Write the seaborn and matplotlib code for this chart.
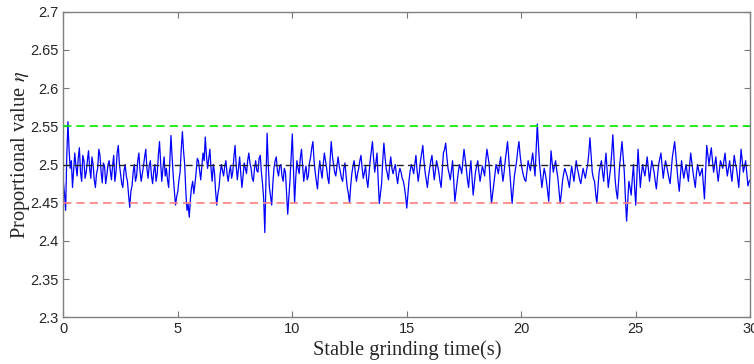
import numpy as np
import pandas as pd
import matplotlib
matplotlib.use("Agg")
import matplotlib.pyplot as plt
from matplotlib.ticker import FuncFormatter
import seaborn as sns

eta = [
    2.478, 2.462, 2.440, 2.510, 2.556, 2.520, 2.495, 2.505, 2.470, 2.492, 2.515, 2.498, 2.485, 2.508, 2.522, 2.490, 2.478, 2.512, 2.505, 2.482,
    2.490, 2.505, 2.518, 2.495, 2.482, 2.510, 2.500, 2.480, 2.470, 2.488, 2.495, 2.520, 2.512, 2.490, 2.476, 2.502, 2.498, 2.475, 2.486, 2.500,
    2.505, 2.492, 2.480, 2.498, 2.512, 2.478, 2.490, 2.515, 2.525, 2.500, 2.488, 2.475, 2.470, 2.492, 2.500, 2.485, 2.478, 2.460, 2.444, 2.465,
    2.472, 2.490, 2.500, 2.478, 2.485, 2.505, 2.515, 2.492, 2.478, 2.488, 2.498, 2.510, 2.520, 2.495, 2.482, 2.498, 2.505, 2.485, 2.475, 2.492,
    2.500, 2.478, 2.488, 2.512, 2.530, 2.502, 2.478, 2.495, 2.510, 2.485, 2.495, 2.480, 2.470, 2.505, 2.538, 2.510, 2.485, 2.465, 2.447, 2.458,
    2.465, 2.480, 2.490, 2.520, 2.543, 2.518, 2.500, 2.465, 2.440, 2.448, 2.431, 2.455, 2.470, 2.478, 2.462, 2.475, 2.490, 2.508, 2.505, 2.492,
    2.480, 2.498, 2.515, 2.505, 2.536, 2.512, 2.495, 2.508, 2.520, 2.495, 2.478, 2.500, 2.490, 2.465, 2.447, 2.462, 2.470, 2.488, 2.500, 2.492,
    2.485, 2.498, 2.505, 2.488, 2.478, 2.490, 2.498, 2.482, 2.490, 2.510, 2.525, 2.498, 2.480, 2.495, 2.510, 2.488, 2.470, 2.485, 2.502, 2.495,
    2.488, 2.505, 2.515, 2.502, 2.495, 2.482, 2.478, 2.495, 2.505, 2.492, 2.490, 2.508, 2.512, 2.490, 2.475, 2.455, 2.411, 2.480, 2.541, 2.500,
    2.470, 2.458, 2.447, 2.475, 2.495, 2.505, 2.510, 2.492, 2.485, 2.498, 2.500, 2.485, 2.478, 2.495, 2.490, 2.462, 2.435, 2.458, 2.480, 2.510,
    2.540, 2.495, 2.450, 2.482, 2.505, 2.495, 2.488, 2.508, 2.520, 2.498, 2.478, 2.490, 2.498, 2.480, 2.485, 2.502, 2.510, 2.522, 2.530, 2.505,
    2.490, 2.478, 2.468, 2.490, 2.505, 2.492, 2.482, 2.500, 2.515, 2.505, 2.495, 2.482, 2.475, 2.505, 2.530, 2.512, 2.500, 2.490, 2.485, 2.498,
    2.510, 2.498, 2.490, 2.482, 2.478, 2.495, 2.502, 2.485, 2.470, 2.462, 2.450, 2.472, 2.488, 2.498, 2.505, 2.490, 2.478, 2.488, 2.495, 2.505,
    2.512, 2.495, 2.482, 2.490, 2.498, 2.480, 2.470, 2.488, 2.505, 2.518, 2.530, 2.508, 2.490, 2.502, 2.515, 2.480, 2.449, 2.462, 2.475, 2.505,
    2.528, 2.510, 2.495, 2.488, 2.480, 2.498, 2.510, 2.495, 2.488, 2.495, 2.500, 2.485, 2.475, 2.488, 2.495, 2.490, 2.482, 2.478, 2.470, 2.458,
    2.443, 2.462, 2.480, 2.492, 2.500, 2.495, 2.488, 2.500, 2.512, 2.492, 2.478, 2.490, 2.505, 2.515, 2.525, 2.505, 2.490, 2.480, 2.470, 2.485,
    2.495, 2.505, 2.512, 2.495, 2.480, 2.492, 2.505, 2.498, 2.490, 2.478, 2.470, 2.492, 2.515, 2.520, 2.528, 2.510, 2.495, 2.488, 2.480, 2.492,
    2.505, 2.478, 2.452, 2.465, 2.478, 2.490, 2.500, 2.495, 2.488, 2.505, 2.520, 2.508, 2.495, 2.480, 2.470, 2.490, 2.505, 2.482, 2.460, 2.475,
    2.490, 2.498, 2.505, 2.490, 2.478, 2.488, 2.498, 2.492, 2.485, 2.505, 2.520, 2.510, 2.500, 2.472, 2.449, 2.462, 2.475, 2.488, 2.500, 2.495,
    2.488, 2.500, 2.510, 2.492, 2.478, 2.490, 2.505, 2.518, 2.530, 2.510, 2.490, 2.470, 2.449, 2.468, 2.485, 2.495, 2.505, 2.520, 2.530, 2.512,
    2.500, 2.492, 2.485, 2.480, 2.478, 2.492, 2.505, 2.498, 2.492, 2.505, 2.515, 2.500, 2.485, 2.520, 2.553, 2.525, 2.500, 2.485, 2.470, 2.482,
    2.495, 2.488, 2.478, 2.465, 2.452, 2.485, 2.518, 2.502, 2.490, 2.498, 2.505, 2.492, 2.482, 2.465, 2.449, 2.462, 2.478, 2.488, 2.495, 2.490,
    2.485, 2.478, 2.470, 2.485, 2.498, 2.488, 2.478, 2.492, 2.505, 2.495, 2.488, 2.480, 2.475, 2.485, 2.495, 2.488, 2.482, 2.492, 2.500, 2.515,
    2.535, 2.512, 2.490, 2.482, 2.478, 2.462, 2.449, 2.470, 2.490, 2.498, 2.505, 2.490, 2.478, 2.498, 2.515, 2.492, 2.470, 2.482, 2.495, 2.515,
    2.539, 2.510, 2.480, 2.465, 2.455, 2.478, 2.500, 2.515, 2.530, 2.510, 2.490, 2.455, 2.426, 2.452, 2.478, 2.470, 2.460, 2.482, 2.500, 2.470,
    2.447, 2.485, 2.520, 2.495, 2.470, 2.488, 2.500, 2.492, 2.485, 2.498, 2.510, 2.495, 2.478, 2.492, 2.505, 2.498, 2.490, 2.478, 2.468, 2.485,
    2.500, 2.508, 2.515, 2.498, 2.482, 2.495, 2.505, 2.498, 2.490, 2.482, 2.475, 2.492, 2.510, 2.520, 2.530, 2.512, 2.495, 2.478, 2.465, 2.485,
    2.505, 2.492, 2.482, 2.492, 2.500, 2.488, 2.478, 2.498, 2.515, 2.502, 2.490, 2.480, 2.470, 2.488, 2.500, 2.492, 2.485, 2.490, 2.495, 2.475,
    2.455, 2.490, 2.525, 2.512, 2.500, 2.512, 2.522, 2.505, 2.490, 2.500, 2.510, 2.492, 2.478, 2.492, 2.505, 2.500, 2.495, 2.505, 2.515, 2.498,
    2.485, 2.495, 2.505, 2.490, 2.478, 2.495, 2.512, 2.502, 2.495, 2.482, 2.470, 2.495, 2.520, 2.505, 2.490, 2.498, 2.505, 2.488, 2.472, 2.478,
    2.480,
]
upper_limit = 2.55
target = 2.5
lower_limit = 2.45
x_ticks = [0, 5, 10, 15, 20, 25, 30]
y_ticks = [2.3, 2.35, 2.4, 2.45, 2.5, 2.55, 2.6, 2.65, 2.7]

time = np.linspace(0, 30, len(eta))
df = pd.DataFrame({"time": time, "eta": eta})

sns.set_style("ticks")
plt.rcParams["font.family"] = ["Liberation Sans", "DejaVu Sans"]
plt.rcParams["mathtext.fontset"] = "stix"

fig = plt.figure(figsize=(7.54, 3.64), dpi=100)
ax = fig.add_axes([0.084, 0.128, 0.911, 0.84])

ax.axhline(upper_limit, color="#00ee00", ls=(0, (5, 3)), lw=1.2, zorder=3)
ax.axhline(lower_limit, color="#ff7f7f", ls=(0, (5, 3)), lw=1.2, zorder=3)
sns.lineplot(data=df, x="time", y="eta", ax=ax, color="#0000ff", lw=0.9,
             estimator=None, zorder=2)
ax.axhline(target, color="#222222", ls=(0, (5, 3)), lw=1.0, zorder=4)

ax.set_xlim(0, 30)
ax.set_ylim(2.3, 2.7)
ax.set_xticks(x_ticks)
ax.set_yticks(y_ticks)
ax.yaxis.set_major_formatter(FuncFormatter(lambda v, p: f"{v:g}"))
ax.tick_params(direction="in", top=True, right=True, length=4, width=0.8,
               colors="#777777", labelcolor="#262626", labelsize=10.5)
for s in ax.spines.values():
    s.set_visible(True)
    s.set_color("#808080")
    s.set_linewidth(1.0)

ax.set_xlabel("Stable grinding time(s)", family=["Liberation Serif"],
              fontsize=14.8, color="#262626", labelpad=3)
ax.set_ylabel("Proportional value $\\eta$", family=["Liberation Serif"],
              fontsize=14.8, color="#262626")
ax.yaxis.set_label_coords(-0.046, 0.53)

fig.savefig("out.png", dpi=100)
